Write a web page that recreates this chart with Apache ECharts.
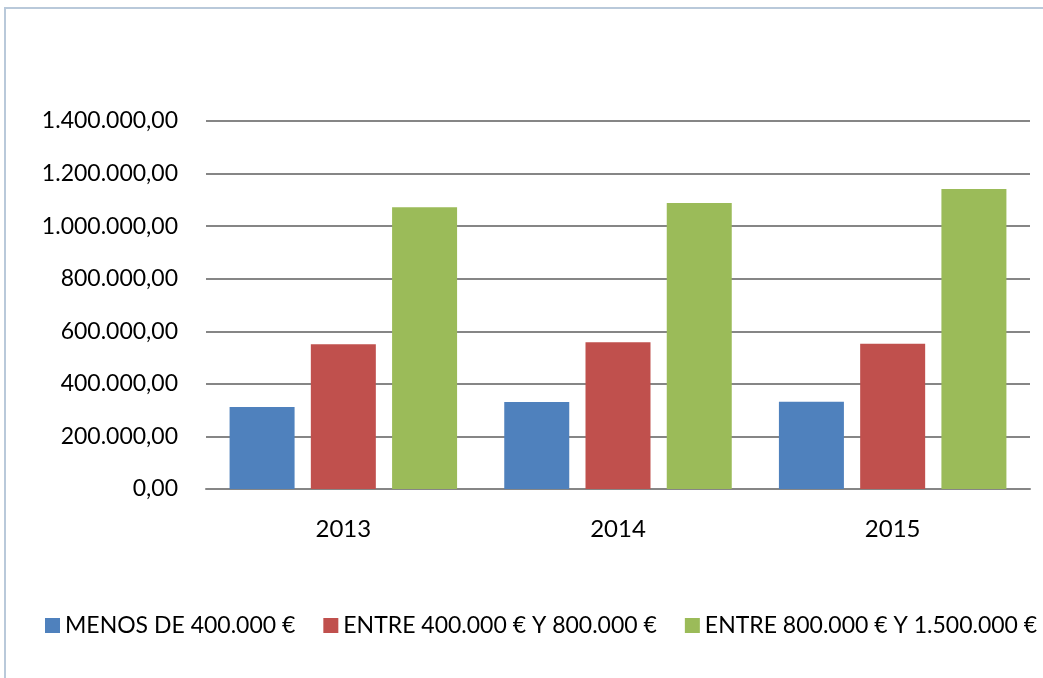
<!DOCTYPE html>
<html>
<head>
<meta charset="utf-8">
<script src="https://cdn.jsdelivr.net/npm/echarts@6/dist/echarts.min.js"></script>
<style>
  html, body { margin:0; padding:0; background:#fff; }
  #chart { width:1043px; height:678px; }
</style>
</head>
<body>
<div id="chart"></div>
<script>
var years = ['2013', '2014', '2015'];
var seriesNames = ['MENOS DE 400.000 €', 'ENTRE 400.000 € Y 800.000 €', 'ENTRE 800.000 € Y 1.500.000 €'];
var menos400 = [312000, 331000, 332000];
var entre400y800 = [551000, 558000, 553000];
var entre800y1500 = [1072000, 1088000, 1141000];
var colores = ['#4F81BD', '#C0504D', '#9BBB59'];

// 1400000 -> "1.400.000,00"
function fmt(v) {
	var s = Math.round(v).toString();
	s = s.replace(/\B(?=(\d{3})+(?!\d))/g, '.');
	return s + ',00';
}

var chart = echarts.init(document.getElementById('chart'));
var datos = [menos400, entre400y800, entre800y1500];
var series = [];
for (var i = 0; i < datos.length; i++) {
	series.push({
		name: seriesNames[i],
		type: 'bar',
		barWidth: 65,
		barGap: '25%',
		itemStyle: { color: colores[i] },
		data: datos[i]
	});
}

option = {
	textStyle: { fontFamily: 'Lato', color: '#000' },
	graphic: [{
		type: 'rect',
		shape: { x: 5, y: 8, width: 1100, height: 700 },
		style: { fill: null, stroke: '#b9c9da', lineWidth: 2 },
		silent: true
	}],
	grid: { left: 206, right: 13, top: 121, bottom: 189 },
	legend: {
		left: 40,
		top: 609,
		itemWidth: 15,
		itemHeight: 15,
		itemGap: 28,
		icon: 'rect',
		textStyle: { fontSize: 23, color: '#000', fontFamily: 'Lato' },
		data: seriesNames
	},
	xAxis: {
		type: 'category',
		data: years,
		axisTick: { show: false },
		axisLine: { lineStyle: { color: '#868686', width: 2 } },
		axisLabel: { fontSize: 24, color: '#000', margin: 28 }
	},
	yAxis: {
		type: 'value',
		min: 0,
		max: 1400000,
		interval: 200000,
		axisLine: { show: false },
		axisTick: { show: false },
		splitLine: { lineStyle: { color: '#868686', width: 2 } },
		axisLabel: { fontSize: 23, color: '#000', margin: 28, formatter: fmt }
	},
	series: series
};
chart.setOption(option);
</script>
</body>
</html>
